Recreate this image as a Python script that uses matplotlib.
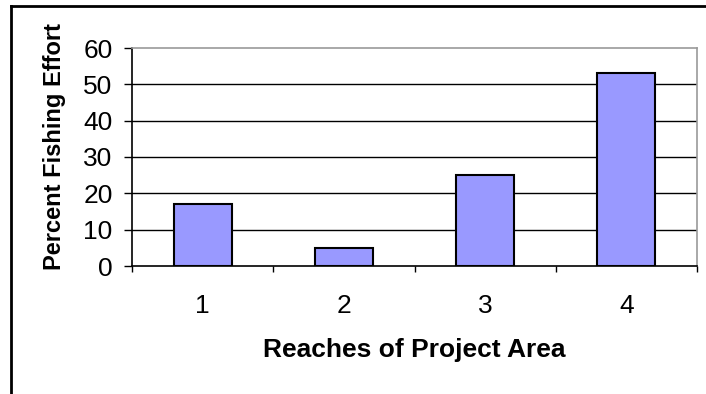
import numpy as np
import matplotlib.pyplot as plt
from matplotlib.lines import Line2D

reaches = ["1", "2", "3", "4"]
effort = [17, 5, 25, 53]
y_ticks = [0, 10, 20, 30, 40, 50, 60]

plt.rcParams["font.family"] = ["Liberation Sans", "DejaVu Sans"]

W, H = 706, 394
fig = plt.figure(figsize=(W / 100, H / 100), dpi=100)

# plot area in pixel coordinates of the reference
left, right, top, bottom = 132, 697, 48, 266
ax = fig.add_axes([left / W, 1 - bottom / H, (right - left) / W, (bottom - top) / H])

x = np.arange(len(reaches))
ax.bar(x, effort, width=0.41, color="#9999FF", edgecolor="black", linewidth=1.5, zorder=3)

ax.set_xlim(-0.5, len(reaches) - 0.5)
ax.set_ylim(0, 60)
ax.set_yticks(y_ticks)
ax.set_yticklabels([str(v) for v in y_ticks], fontsize=19)
for v in y_ticks[1:-1]:
    ax.axhline(v, color="black", lw=1.0, zorder=1)

ax.set_xticks(x)
ax.set_xticklabels(reaches, fontsize=19)
ax.tick_params(axis="x", which="major", length=0, pad=20)
ax.set_xticks(np.arange(-0.5, len(reaches), 1), minor=True)
ax.tick_params(axis="x", which="minor", length=4.5, width=1, direction="out")
ax.tick_params(axis="y", length=6, width=1, direction="out", pad=8)

ax.spines["left"].set_color("black")
ax.spines["bottom"].set_color("black")
ax.spines["top"].set_color("#999999")
ax.spines["right"].set_color("#999999")
for s in ax.spines.values():
    s.set_linewidth(1.2)

ax.set_xlabel("Reaches of Project Area", fontsize=19, fontweight="bold", va="center")
ax.xaxis.set_label_coords(0.5, -0.385)
ax.set_ylabel("Percent Fishing Effort", fontsize=17, fontweight="bold", va="center")
ax.yaxis.set_label_coords(-0.138, 0.55)

# chart area border (only top and left visible in the crop)
fig.add_artist(Line2D([11 / W, 11 / W], [0, 1 - 6 / H], transform=fig.transFigure,
                      color="black", lw=2))
fig.add_artist(Line2D([11 / W, 1], [1 - 6 / H, 1 - 6 / H], transform=fig.transFigure,
                      color="black", lw=2))

fig.savefig("out.png", dpi=100)
